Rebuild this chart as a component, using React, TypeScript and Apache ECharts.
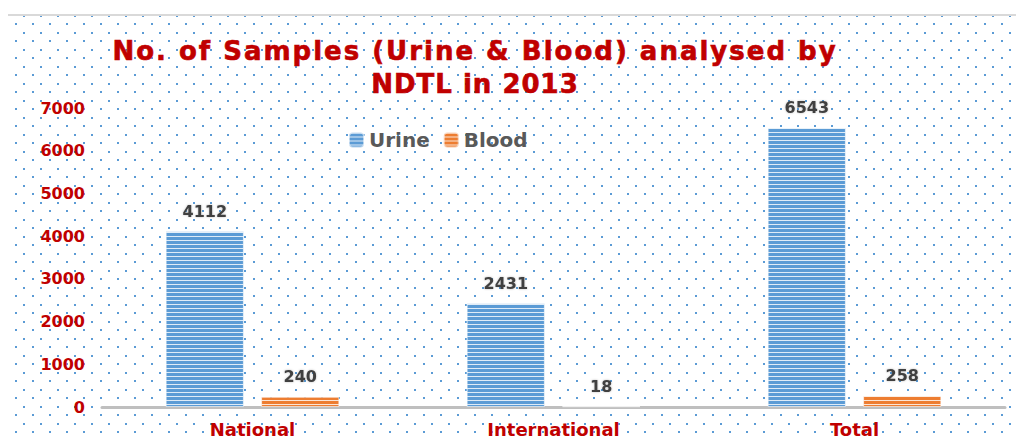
import React, { useEffect, useRef } from "react";
import * as echarts from "echarts";

const categories = ["National", "International", "Total"];
const urine = [4112, 2431, 6543];
const blood = [240, 18, 258];
const yTicks = { min: 0, max: 7000, interval: 1000 };
const titleText = "No. of Samples (Urine & Blood) analysed by\nNDTL in 2013";

const FONT = '"DejaVu Sans", Verdana, sans-serif';

const dotSvg =
  "data:image/svg+xml;utf8," +
  encodeURIComponent(
    "<svg xmlns='http://www.w3.org/2000/svg' width='17' height='17'><rect x='0' y='0' width='2' height='2' fill='#5b9bd5'/><rect x='8' y='9' width='2' height='2' fill='#5b9bd5'/></svg>"
  );

export default function App() {
  const ref = useRef<HTMLDivElement>(null);
  useEffect(() => {
    if (!ref.current) return;
    const chart = echarts.init(ref.current, null, { renderer: "svg" });
    const decal = {
      symbol: "rect",
      symbolSize: 1,
      dashArrayX: [1, 0],
      dashArrayY: [1, 2.6],
      rotation: 0,
      color: "rgba(255,255,255,0.8)",
    };
    const label = {
      show: true,
      position: "top",
      distance: 12,
      fontFamily: FONT,
      fontWeight: "bold",
      fontSize: 16,
      color: "#404040",
      textShadowColor: "rgba(0,0,0,0.25)",
      textShadowBlur: 2,
    };
    chart.setOption({
      animation: false,
      backgroundColor: "transparent",
      graphic: [
        {
          type: "text",
          x: 475,
          y: 34,
          style: {
            text: titleText,
            align: "center",
            verticalAlign: "top",
            font: `bold 26px ${FONT}`,
            fill: "#c00000",
            stroke: "#c00000",
            lineWidth: 0.6,
            lineHeight: 33,
          },
        },
      ],
      legend: {
        left: 343,
        top: 125,
        itemWidth: 15,
        itemHeight: 15,
        itemGap: 13,
        textStyle: { fontFamily: FONT, fontWeight: "bold", fontSize: 20, color: "#595959" },
        data: ["Urine", "Blood"],
      },
      grid: { left: 102, right: 19, top: 108, bottom: 39 },
      xAxis: {
        type: "category",
        data: categories,
        axisLine: { show: true, lineStyle: { color: "#bfbfbf", width: 3 } },
        axisTick: { show: false },
        axisLabel: {
          margin: 13,
          fontFamily: FONT,
          fontWeight: "bold",
          fontSize: 18,
          color: "#c00000",
        },
      },
      yAxis: {
        type: "value",
        min: yTicks.min,
        max: yTicks.max,
        interval: yTicks.interval,
        axisLine: { show: false },
        axisTick: { show: false },
        splitLine: { show: false },
        axisLabel: {
          margin: 17,
          fontFamily: FONT,
          fontWeight: "bold",
          fontSize: 16,
          color: "#c00000",
          formatter: (v: number) => String(v),
        },
      },
      series: [
        {
          name: "Urine",
          type: "bar",
          data: urine,
          barWidth: "26%",
          barGap: "22%",
          itemStyle: { color: "#5b9bd5", decal, borderColor: "rgba(255,255,255,0.35)", borderWidth: 1 },
          label,
        },
        {
          name: "Blood",
          type: "bar",
          data: blood,
          barWidth: "26%",
          itemStyle: { color: "#ed7d31", decal, borderColor: "rgba(255,255,255,0.35)", borderWidth: 1 },
          label,
        },
      ],
    });
    // widen the title's letter spacing as in the reference
    ref.current.querySelectorAll("text").forEach((t) => {
      const s = t.textContent || "";
      if (s.startsWith("No. of")) t.style.letterSpacing = "2px";
      if (s.startsWith("NDTL")) t.style.letterSpacing = "1px";
    });
    return () => chart.dispose();
  }, []);
  return (
    <div style={{ position: "relative", width: 1024, height: 446, margin: -8, overflow: "hidden", background: "#fff" }}>
      <div
        style={{
          position: "absolute",
          left: 6,
          top: 14,
          width: 1100,
          height: 500,
          border: "2px solid #d9d9d9",
          backgroundImage: `url("${dotSvg}")`,
          backgroundRepeat: "repeat",
          backgroundPosition: "7px 7px",
        }}
      />
      <div ref={ref} style={{ position: "absolute", left: 0, top: 0, width: 1024, height: 446 }} />
    </div>
  );
}
